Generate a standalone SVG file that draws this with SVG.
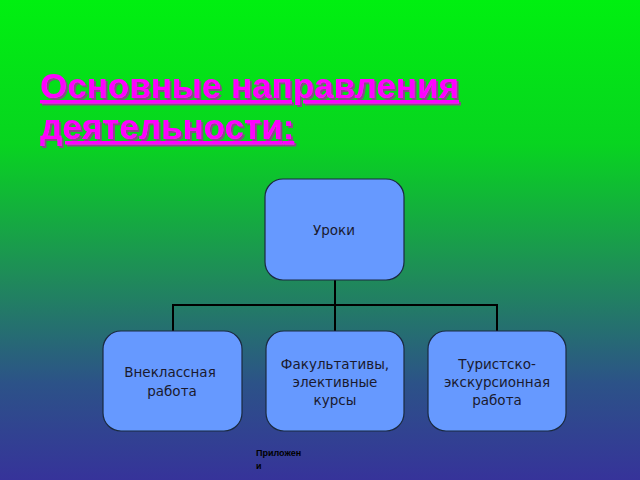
<svg xmlns="http://www.w3.org/2000/svg" width="640" height="480" viewBox="0 0 640 480">
<defs>
<linearGradient id="bg" x1="0" y1="0" x2="0" y2="1">
<stop offset="0" stop-color="#00f010"/>
<stop offset="0.3" stop-color="#08d420"/>
<stop offset="0.58" stop-color="#1f8a5a"/>
<stop offset="0.8" stop-color="#2c5288"/>
<stop offset="1" stop-color="#36339a"/>
</linearGradient>
<filter id="sh" x="-5%" y="-20%" width="110%" height="140%">
<feDropShadow dx="2" dy="2" stdDeviation="0" flood-color="#8a4a8a"/>
</filter>
</defs>
<style>
.box{fill:#6699ff;stroke:#1a2a40;stroke-width:1.2}
.lbl{font-family:"DejaVu Sans",sans-serif;font-size:13.5px;fill:#1a1a2e;text-anchor:middle}
.t{font-family:"Liberation Sans",Arial,sans-serif;font-weight:bold;font-size:35px;fill:#ff00ff;text-decoration:underline;filter:url(#sh)}
.c{fill:none;stroke:#000;stroke-width:2}
</style>
<rect width="640" height="480" fill="url(#bg)"/>
<g id="title">
<text class="t" x="40" y="98">Основные направления</text>
<text class="t" x="40" y="139">деятельности<tspan text-decoration="none">:</tspan></text>
</g>
<g id="connectors">
<path class="c" d="M335 280V305M173 331V305H497V331M335 305V331"/>
</g>
<g id="n1"><rect class="box" x="265" y="179" width="139" height="101" rx="18"/><text class="lbl" x="334" y="235">Уроки</text></g>
<g id="n2"><rect class="box" x="103" y="331" width="139" height="100" rx="18"/><text class="lbl" x="170" y="377">Внеклассная</text><text class="lbl" x="172" y="396">работа</text></g>
<g id="n3"><rect class="box" x="266" y="331" width="138" height="100" rx="18"/><text class="lbl" x="335" y="369">Факультативы,</text><text class="lbl" x="335" y="387">элективные</text><text class="lbl" x="335" y="405">курсы</text></g>
<g id="n4"><rect class="box" x="428" y="331" width="138" height="100" rx="18"/><text class="lbl" x="497" y="369">Туристско-</text><text class="lbl" x="497" y="387">экскурсионная</text><text class="lbl" x="497" y="405">работа</text></g>
<g id="note" font-family="Liberation Sans,Arial,sans-serif" font-weight="bold" font-size="9px" fill="#000">
<text x="256" y="456">Приложен</text><text x="256" y="469">и</text>
</g>
</svg>
